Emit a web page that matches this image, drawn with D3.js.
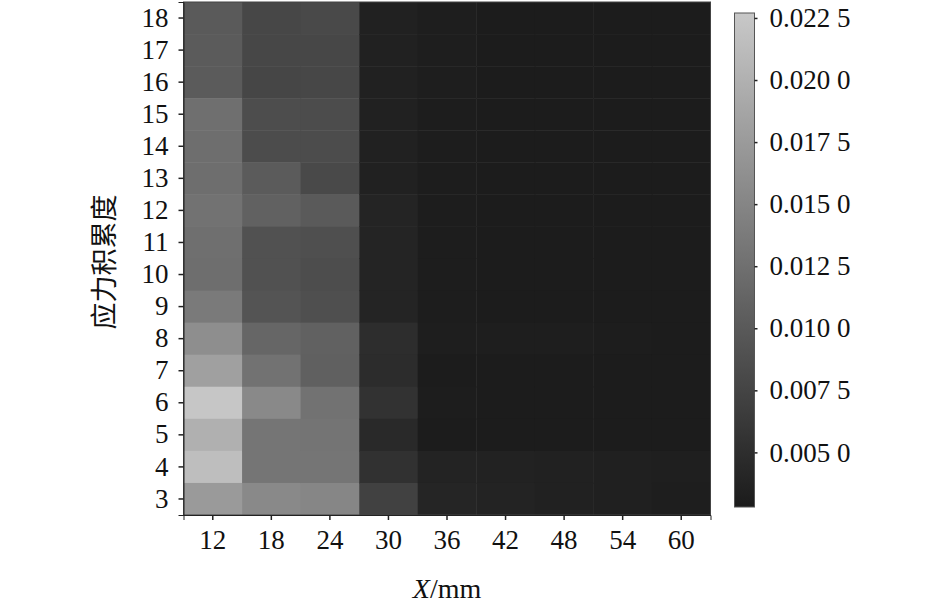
<!DOCTYPE html>
<html><head><meta charset="utf-8">
<script src="https://cdn.jsdelivr.net/npm/d3@7"></script>
<style>body{margin:0;background:#fff}svg{display:block}</style>
</head><body>
<svg id="c" width="945" height="608"></svg>
<script>
const xCats = [12, 18, 24, 30, 36, 42, 48, 54, 60];
const yCats = [18, 17, 16, 15, 14, 13, 12, 11, 10, 9, 8, 7, 6, 5, 4, 3];
// values per column (x), listed from row 18 down to row 3
const col12 = [0.0100,0.0102,0.0102,0.0125,0.0123,0.0123,0.0128,0.0125,0.0123,0.0137,0.0160,0.0181,0.0225,0.0199,0.0215,0.0174];
const col18 = [0.0079,0.0079,0.0077,0.0086,0.0084,0.0102,0.0109,0.0090,0.0090,0.0093,0.0114,0.0128,0.0155,0.0132,0.0132,0.0155];
const col24 = [0.0081,0.0079,0.0079,0.0084,0.0084,0.0081,0.0100,0.0088,0.0086,0.0088,0.0109,0.0107,0.0128,0.0130,0.0132,0.0151];
const col30 = [0.0035,0.0035,0.0035,0.0035,0.0035,0.0035,0.0038,0.0038,0.0038,0.0038,0.0049,0.0047,0.0055,0.0044,0.0053,0.0072];
const col36 = [0.0031,0.0031,0.0031,0.0030,0.0030,0.0030,0.0030,0.0030,0.0030,0.0030,0.0031,0.0029,0.0030,0.0029,0.0037,0.0040];
const col42 = [0.0029,0.0029,0.0029,0.0029,0.0029,0.0029,0.0029,0.0029,0.0029,0.0029,0.0032,0.0029,0.0029,0.0029,0.0036,0.0037];
const col48 = [0.0029,0.0029,0.0029,0.0029,0.0029,0.0029,0.0029,0.0029,0.0029,0.0029,0.0032,0.0029,0.0029,0.0029,0.0035,0.0035];
const col54 = [0.0029,0.0029,0.0029,0.0029,0.0029,0.0029,0.0029,0.0029,0.0029,0.0029,0.0030,0.0029,0.0029,0.0029,0.0034,0.0034];
const col60 = [0.0029,0.0029,0.0029,0.0029,0.0029,0.0029,0.0029,0.0029,0.0029,0.0029,0.0029,0.0029,0.0029,0.0029,0.0033,0.0031];
const columns = [col12, col18, col24, col30, col36, col42, col48, col54, col60];
const cbTicks = [0.0050, 0.0075, 0.0100, 0.0125, 0.0150, 0.0175, 0.0200, 0.0225];
const vMin = 0.0028, vMax = 0.0227;

const cells = [];
xCats.forEach((xc, i) => yCats.forEach((yc, j) => cells.push({x: xc, y: yc, v: columns[i][j]})));

const svg = d3.select("#c");
const L = 183.5, R = 710.5, T = 2, B = 515;
const font = "'Liberation Serif','Times New Roman',serif";
const x = d3.scaleBand().domain(xCats).range([L, R]).padding(0);
const y = d3.scaleBand().domain(yCats).range([T, B]).padding(0);
const color = d3.scaleLinear().domain([vMin, vMax]).range(["#1b1b1b", "#c8c8c8"]).clamp(true);

svg.append("g").selectAll("rect").data(cells).join("rect")
  .attr("x", d => x(d.x)).attr("y", d => y(d.y))
  .attr("width", x.bandwidth() + 0.5).attr("height", y.bandwidth() + 0.5)
  .attr("fill", d => color(d.v));

svg.append("rect").attr("x", L).attr("y", T).attr("width", R - L).attr("height", B - T)
  .attr("fill", "none").attr("stroke", "#444").attr("stroke-width", 1);

const xa = svg.append("g").attr("transform", `translate(0,${B})`)
  .call(d3.axisBottom(x).tickSize(5).tickPadding(10));
const ya = svg.append("g").attr("transform", `translate(${L},0)`)
  .call(d3.axisLeft(y).tickSize(5).tickPadding(10));
[xa, ya].forEach(a => {
  a.select(".domain").attr("stroke", "#222");
  a.selectAll(".tick line").attr("stroke", "#222").attr("stroke-width", 1.5);
  a.selectAll("text").attr("font-family", font).attr("font-size", 27).attr("fill", "#111");
});

svg.append("text").attr("x", 447).attr("y", 598).attr("text-anchor", "middle")
  .attr("font-family", font).attr("font-size", 28).attr("fill", "#111")
  .html('<tspan font-style="italic">X</tspan>/mm');

svg.append("text").attr("transform", "translate(114,262) rotate(-90)").attr("text-anchor", "middle")
  .attr("font-family", "'Noto Sans CJK SC',sans-serif").attr("font-size", 27).attr("fill", "#111")
  .text("应力积累度");

// colorbar
const cbL = 734.5, cbW = 20, cbT = 13, cbB = 507;
const cy = d3.scaleLinear().domain([vMin, vMax]).range([cbB, cbT]);
const defs = svg.append("defs");
const grad = defs.append("linearGradient").attr("id", "g").attr("x1", 0).attr("y1", 1).attr("x2", 0).attr("y2", 0);
d3.range(0, 1.0001, 0.1).forEach(t => grad.append("stop").attr("offset", t).attr("stop-color", color(vMin + t * (vMax - vMin))));
svg.append("rect").attr("x", cbL).attr("y", cbT).attr("width", cbW).attr("height", cbB - cbT)
  .attr("fill", "url(#g)").attr("stroke", "#555").attr("stroke-width", 1);
const fmt = v => { const s = d3.format(".4f")(v); return s.slice(0, -1) + " " + s.slice(-1); };
const ca = svg.append("g").attr("transform", `translate(${cbL + cbW},0)`)
  .call(d3.axisRight(cy).tickValues(cbTicks).tickFormat(fmt).tickSize(3).tickPadding(12));
ca.select(".domain").remove();
ca.selectAll(".tick line").attr("stroke", "#222").attr("stroke-width", 1.5);
ca.selectAll("text").attr("font-family", font).attr("font-size", 27).attr("fill", "#111");
</script>
</body></html>
